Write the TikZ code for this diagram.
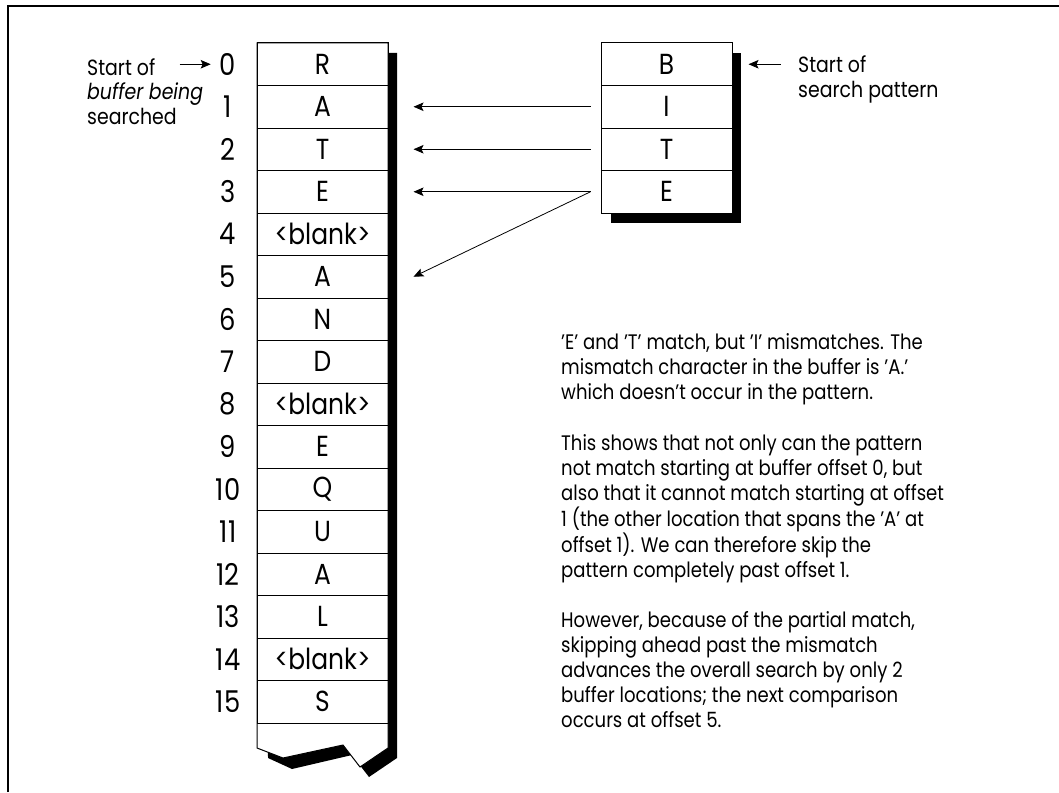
\documentclass[tikz,border=0pt]{standalone}
\usepackage{fontspec}
\setmainfont{Poppins}[FakeStretch=0.86]
\usetikzlibrary{arrows.meta}
\begin{document}
\begin{tikzpicture}[x=1pt,y=-1pt,
  cell/.style={draw, line width=1pt, minimum width=131pt, minimum height=42.5pt, inner sep=0pt, font=\fontsize{29}{32}\selectfont},
  idx/.style={font=\fontsize{30}{32}\selectfont, inner sep=0pt},
  arr/.style={line width=0.8pt, -{Stealth[length=10pt,width=8.5pt,inset=2pt]}},
  lbl/.style={font=\fontsize{22}{25}\selectfont, align=left, inner sep=0pt},
  body/.style={font=\fontsize{21}{25}\selectfont, align=left, inner sep=0pt, anchor=north west}]
\useasboundingbox (0,0) rectangle (1059,792);
\fill[white] (0,0) rectangle (1059,792);
\draw[line width=1.2pt] (8,792) -- (8,6) -- (1059,6);
% buffer
\fill[black] (266,53) -- (397,53) -- (397,758) -- (369,777) -- (352,755) -- (292,769) -- (268,758) -- cycle;
\filldraw[fill=white, line width=1pt] (257,43) -- (388,43) -- (388,748) -- (360,767) -- (343,745) -- (283,758) -- (257,748) -- cycle;
\foreach \t [count=\i from 0] in {R,A,T,E,{<blank>},A,N,D,{<blank>},E,Q,U,A,L,{<blank>},S}{
  \node[cell] (b\i) at (322.5,{43+42.5*(\i+0.5)}) {\t};
  \node[idx] (n\i) at (228,{43+42.5*(\i+0.5)}) {\i};
}
% pattern
\fill[black] (611,53) rectangle (741,223);
\foreach \t [count=\i from 0] in {B,I,T,E}{
  \node[cell, fill=white] (p\i) at (666.5,{43+42.5*(\i+0.5)}) {\t};
}
\draw[arr] ([xshift=-10pt]p1.west) -- ([xshift=25pt]b1.east);
\draw[arr] ([xshift=-10pt]p2.west) -- ([xshift=25pt]b2.east);
\draw[arr] ([xshift=-10pt]p3.west) -- ([xshift=25pt]b3.east);
\draw[arr] ([xshift=-10pt]p3.west) -- ([xshift=25pt]b5.east);
% labels
\node[lbl, anchor=base west] (sl) at (87,75) {Start of};
\node[lbl, anchor=base west] (sl2) at (87,99.5) {\textit{buffer being}};
\node[lbl, anchor=base west] (sl3) at (87,124) {searched};
\draw[arr] ([xshift=-40pt]n0.west) -- ([xshift=-9pt]n0.west);
\node[lbl, anchor=base west] (sr) at (798,73) {Start of};
\node[lbl, anchor=base west] (sr2) at (798,97.5) {search pattern};
\draw[arr] ([xshift=48pt]p0.east) -- ([xshift=16pt]p0.east);
\node[body] (para1) at (561,333) {\rule{0pt}{16pt}'E' and 'T' match, but 'I' mismatches. The\\
mismatch character in the buffer is 'A.'\\
which doesn't occur in the pattern.};
\node[body] (para2) at (561,434) {\rule{0pt}{16pt}This shows that not only can the pattern\\
not match starting at buffer offset 0, but\\
also that it cannot match starting at offset\\
1 (the other location that spans the 'A' at\\
offset 1). We can therefore skip the\\
pattern completely past offset 1.};
\node[body] (para3) at (561,611) {\rule{0pt}{16pt}However, because of the partial match,\\
skipping ahead past the mismatch\\
advances the overall search by only 2\\
buffer locations; the next comparison\\
occurs at offset 5.};
\end{tikzpicture}
\end{document}
